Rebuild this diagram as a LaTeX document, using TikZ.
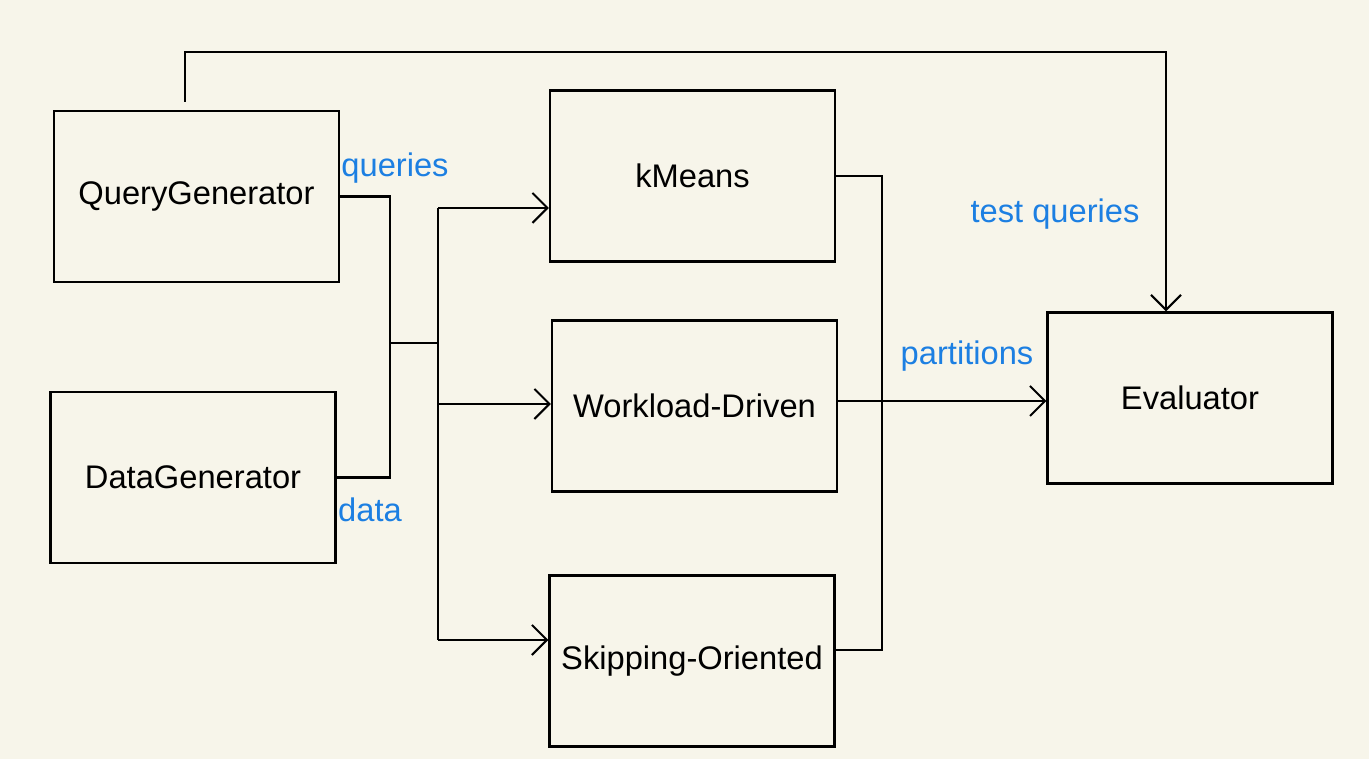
\documentclass[tikz,border=0pt]{standalone}
\usepackage{fontspec}
\setmainfont{Liberation Sans}
\usetikzlibrary{arrows.meta}
\definecolor{paper}{RGB}{247,245,234}
\definecolor{labelblue}{RGB}{28,127,226}
\begin{document}
\begin{tikzpicture}[
        x=0.02cm, y=-0.02cm,
        every node/.style={font=\fontsize{18.6}{22}\selectfont},
        box/.style={draw, line width=1.2pt, minimum width=5.7cm, minimum height=3.42cm, text centered},
        flow/.style={line width=1.2pt},
        feed/.style={flow, -{Straight Barb[length=0.3cm, width=0.6cm, line width=1.2pt]}},
        tag/.style={text=labelblue},
    ]
    \fill[paper] (0,0) rectangle (1369,759);
    \useasboundingbox (0,0) rectangle (1369,759);

    \node[box](qgen) at (196.5,196.5){QueryGenerator};
    \node[box](dgen) at (193,477.5){DataGenerator};
    \node[box](kmeans) at (692.5,176){kMeans};
    \node[box](wdriven) at (694.5,406){Workload-Driven};
    \node[box](skip) at (692,661){Skipping-Oriented};
    \node[box](eval) at (1190,398){Evaluator};

    \coordinate (merge) at (390,343);
    \coordinate (split) at (438,343);
    \coordinate (btop) at (438,208);
    \coordinate (bmid) at (438,404);
    \coordinate (bbot) at (438,640);
    \coordinate (collect) at (882,401);
    \coordinate (cbot) at (882,650);
    \coordinate (qtop) at (185,102);
    \coordinate (etop) at (1166,52);

    \draw[flow] (qgen.east) -| (merge) |- (dgen.east);
    \draw[flow] (merge) -- (split);
    \draw[flow] (btop) -- (bbot);
    \draw[feed] (btop) -- (btop -| kmeans.west);
    \draw[feed] (bmid) -- (bmid -| wdriven.west);
    \draw[feed] (bbot) -- (bbot -| skip.west);

    \draw[flow] (kmeans.east) -| (cbot) -- (cbot -| skip.east);
    \draw[flow] (collect -| wdriven.east) -- (collect);
    \draw[feed] (collect) -- (collect -| eval.west);

    \draw[feed] (qtop) |- (etop) -- (etop |- eval.north);

    \node[tag](queries) at (395,168){queries};
    \node[tag](data) at (370,510){data};
    \node[tag](parts) at (967,356){partitions};
    \node[tag](testq) at (1055,214){test queries};
\end{tikzpicture}
\end{document}
